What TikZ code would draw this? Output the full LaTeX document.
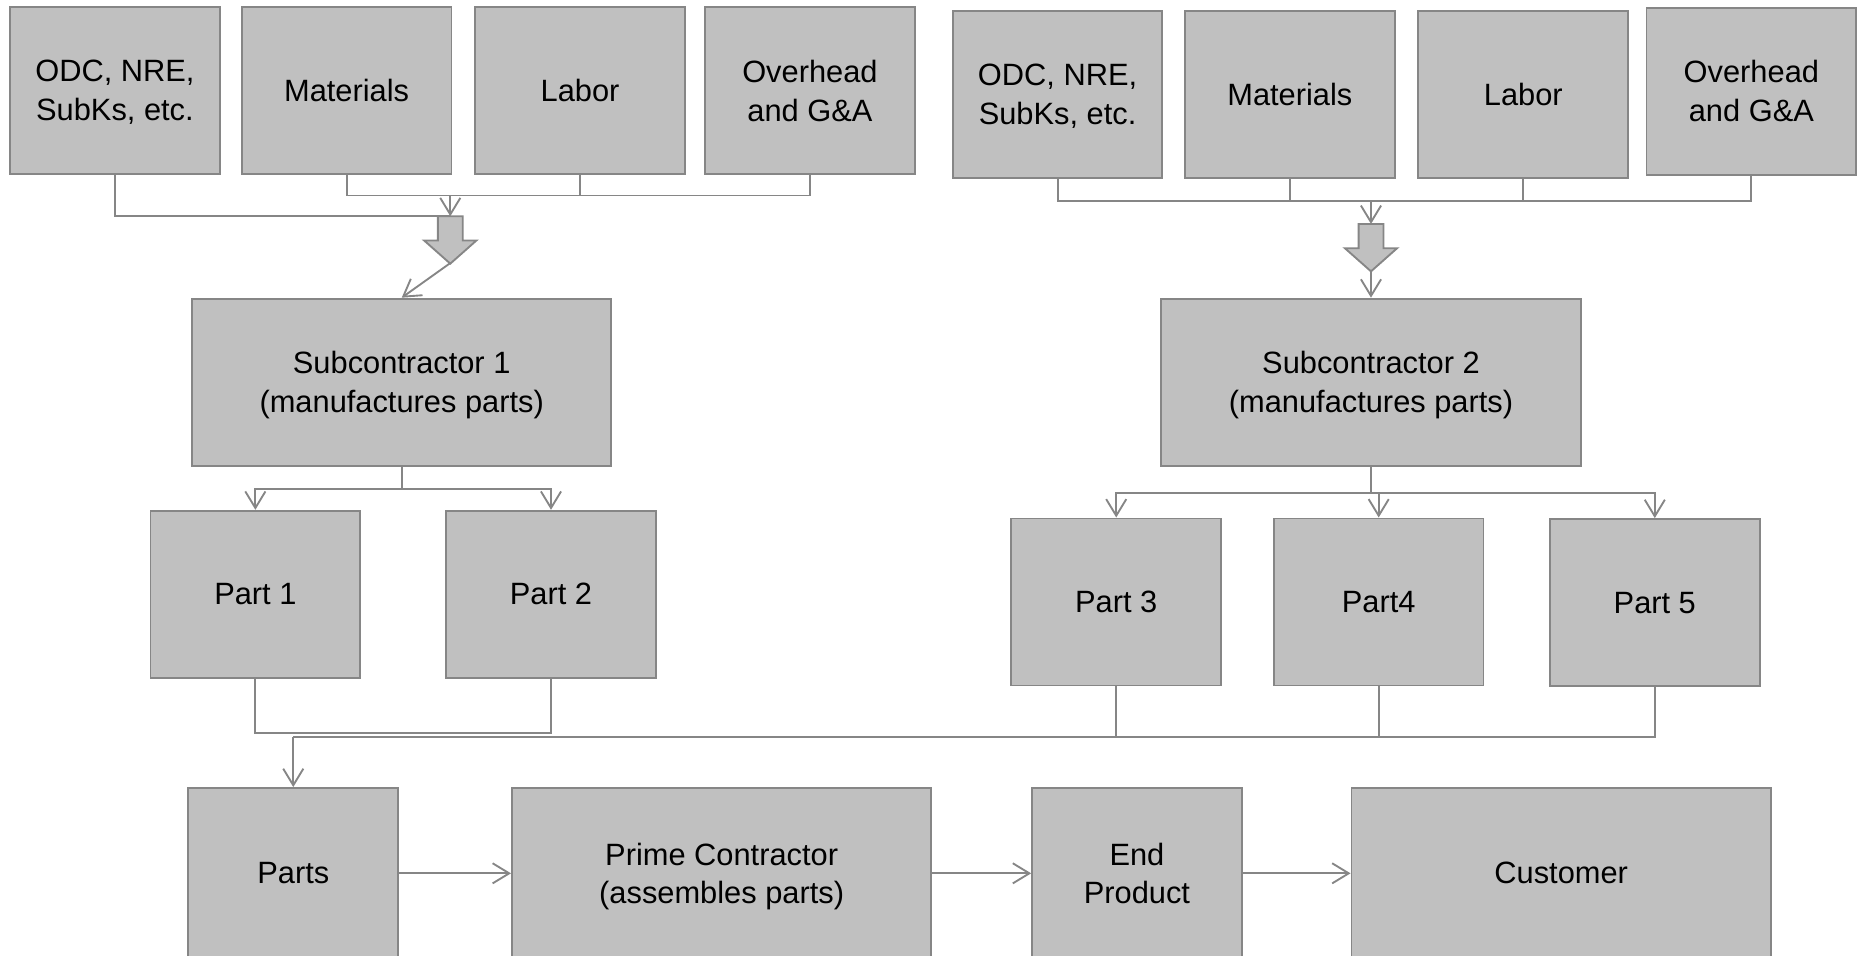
\documentclass[tikz,border=0pt]{standalone}
\usepackage{fontspec}
\setmainfont{Liberation Sans}
\usetikzlibrary{arrows.meta}
\definecolor{boxgray}{RGB}{192,192,192}
\definecolor{linegray}{RGB}{134,134,134}

\begin{document}
\begin{tikzpicture}[x=0.02cm,y=-0.02cm,
    box/.style={draw=linegray,fill=boxgray,line width=0.9pt,minimum width=\w,minimum height=\h,inner sep=2pt,align=center,font=\fontsize{14.8}{18.7}\selectfont},
    wbox/.style={box,minimum width=\ww},
    twoline/.style={text depth=0pt},
    conn/.style={draw=linegray,line width=0.9pt},
    arr/.style={conn,-{Straight Barb[length=2.8mm,width=3.4mm]}},
    blockarr/.style={draw=linegray,fill=boxgray,line width=0.9pt}]
            \def\w{3.54cm}%小方框宽
            \def\ww{7.08cm}%宽方框宽
            \def\h{2.82cm}%方框高
            \useasboundingbox (0,0) rectangle (1568,806);
            \clip (0,0) rectangle (1568,806);
            %左上四个成本方框
            \node[box,twoline] (odcA) at (97,76.5) {ODC, NRE,\\SubKs, etc.};
            \node[box] (matA) at (292.5,76.5) {Materials};
            \node[box] (labA) at (489.5,76.5) {Labor};
            \node[box,twoline] (ovhA) at (683.5,76.5) {Overhead\\and G\&A};
            %右上四个成本方框
            \node[box,twoline] (odcB) at (892.5,79.5) {ODC, NRE,\\SubKs, etc.};
            \node[box] (matB) at (1088.5,79.5) {Materials};
            \node[box] (labB) at (1285.5,79.5) {Labor};
            \node[box,twoline] (ovhB) at (1478,77) {Overhead\\and G\&A};
            %两个分包商
            \node[wbox,twoline] (subA) at (339,322.5) {Subcontractor 1\\(manufactures parts)};
            \node[wbox,twoline] (subB) at (1157,322.5) {Subcontractor 2\\(manufactures parts)};
            %零件
            \node[box] (partA) at (215.5,501.5) {Part 1};
            \node[box] (partB) at (465,501.5) {Part 2};
            \node[box] (partC) at (942,508) {Part 3};
            \node[box] (partD) at (1163.5,508) {Part4};
            \node[box] (partE) at (1396.5,508.5) {Part 5};
            %底行
            \node[box,minimum height=2.88cm] (parts) at (247.5,737) {Parts};
            \node[wbox,twoline,minimum height=2.88cm] (prime) at (609,737) {Prime Contractor\\(assembles parts)};
            \node[box,twoline,minimum height=2.88cm] (endp) at (959.5,737) {End\\Product};
            \node[wbox,minimum height=2.88cm] (cust) at (1317.5,737) {Customer};
            %粗箭头的上端和尖端
            \coordinate (topA) at (380,182.5);
            \coordinate (tipA) at (380,222);
            \coordinate (topB) at (1157,189);
            \coordinate (tipB) at (1157,229);
            %左上汇总线
            \coordinate (busA) at (380,165);
            \draw[conn] (matA.south) |- (busA) -| (ovhA.south);
            \draw[conn] (labA.south) -- (labA.south |- busA);
            \draw[conn] (odcA.south) |- (topA);
            \draw[arr] (busA) -- (topA);
            \draw[arr] (tipA) -- (subA.north);
            %右上汇总线
            \coordinate (busB) at (1157,169.5);
            \draw[conn] (odcB.south) |- (busB) -| (ovhB.south);
            \draw[conn] (matB.south) -- (matB.south |- busB);
            \draw[conn] (labB.south) -- (labB.south |- busB);
            \draw[arr] (busB) -- (topB);
            \draw[arr] (tipB) -- (subB.north);
            %粗箭头
            \foreach \t in {topA,topB}
                \draw[blockarr] (\t) ++(-10.5,0) -- ++(21,0) -- ++(0,20.5) -- ++(11.5,0) -- ++(-22,19.5) -- ++(-22,-19.5) -- ++(11.5,0) -- cycle;
            %分包商到零件
            \draw[arr] (subA.south) -- ++(0,19) -| (partA.north);
            \draw[arr] (subA.south) -- ++(0,19) -| (partB.north);
            \foreach \p in {partC,partD,partE}
                \draw[arr] (subB.south) -- ++(0,22) -| (\p.north);
            %零件汇总到Parts
            \coordinate (busC) at (247.5,622);
            \draw[conn] (partA.south) -- ++(0,46) -| (partB.south);
            \draw[conn] (partE.south) |- (busC);
            \draw[conn] (partC.south) -- (partC.south |- busC);
            \draw[conn] (partD.south) -- (partD.south |- busC);
            \draw[arr] (busC) -- (parts.north);
            %底行箭头
            \draw[arr] (parts) -- (prime);
            \draw[arr] (prime) -- (endp);
            \draw[arr] (endp) -- (cust);
\end{tikzpicture}
\end{document}
